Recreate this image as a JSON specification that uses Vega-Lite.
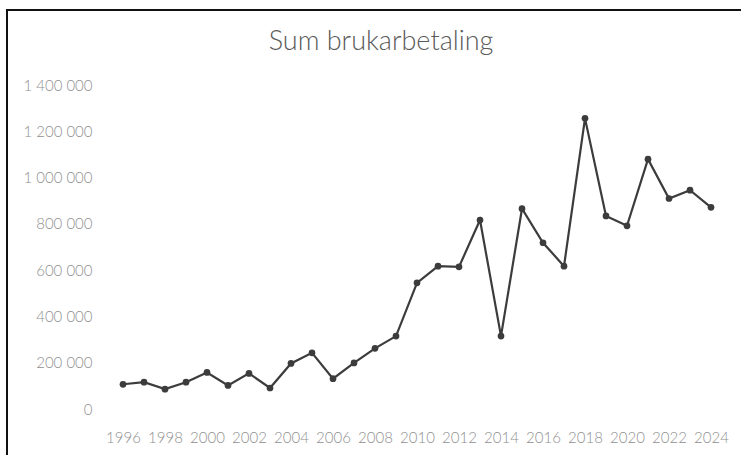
{
  "$schema": "https://vega.github.io/schema/vega-lite/v6.json",
  "autosize": "none",
  "padding": {"left": 7, "top": 10, "right": 0, "bottom": 0},
  "width": 748,
  "height": 450,
  "background": "white",
  "title": {
    "text": "Sum brukarbetaling",
    "anchor": "middle",
    "offset": -46,
    "font": "Lato",
    "fontSize": 27,
    "fontWeight": 300,
    "color": "#5a5a5a"
  },
  "config": {
    "view": {"stroke": "#111", "strokeWidth": 2},
    "locale": {"number": {"decimal": ",", "thousands": " ", "grouping": [3], "currency": ["", " kr"]}}
  },
  "data": {
    "values": [
      {"year": 1996, "value": 108000},
      {"year": 1997, "value": 117000},
      {"year": 1998, "value": 87000},
      {"year": 1999, "value": 117000},
      {"year": 2000, "value": 159000},
      {"year": 2001, "value": 103000},
      {"year": 2002, "value": 155000},
      {"year": 2003, "value": 92000},
      {"year": 2004, "value": 198000},
      {"year": 2005, "value": 244000},
      {"year": 2006, "value": 132000},
      {"year": 2007, "value": 200000},
      {"year": 2008, "value": 263000},
      {"year": 2009, "value": 316000},
      {"year": 2010, "value": 546000},
      {"year": 2011, "value": 618000},
      {"year": 2012, "value": 615000},
      {"year": 2013, "value": 817000},
      {"year": 2014, "value": 316000},
      {"year": 2015, "value": 866000},
      {"year": 2016, "value": 719000},
      {"year": 2017, "value": 618000},
      {"year": 2018, "value": 1256000},
      {"year": 2019, "value": 835000},
      {"year": 2020, "value": 792000},
      {"year": 2021, "value": 1080000},
      {"year": 2022, "value": 910000},
      {"year": 2023, "value": 946000},
      {"year": 2024, "value": 872000}
    ]
  },
  "encoding": {
    "x": {
      "field": "year",
      "type": "quantitative",
      "scale": {"domain": [1990.476, 2026.095], "nice": false, "zero": false},
      "axis": {
        "title": null,
        "values": [1996, 1998, 2000, 2002, 2004, 2006, 2008, 2010, 2012, 2014, 2016, 2018, 2020, 2022, 2024],
        "format": "d",
        "offset": -30,
        "domain": false,
        "ticks": false,
        "grid": false,
        "labelPadding": 0,
        "labelBaseline": "top",
        "labelFont": "Lato",
        "labelFontSize": 15,
        "labelFontWeight": 300,
        "labelColor": "#8f8f8f",
        "labelOverlap": false
      }
    },
    "y": {
      "field": "value",
      "type": "quantitative",
      "scale": {"domain": [-218900, 1723800], "nice": false, "zero": false},
      "axis": {
        "title": null,
        "values": [0, 200000, 400000, 600000, 800000, 1000000, 1200000, 1400000],
        "format": ",d",
        "offset": -85,
        "domain": false,
        "ticks": false,
        "grid": false,
        "labelPadding": 0,
        "labelFont": "Lato",
        "labelFontSize": 15,
        "labelFontWeight": 300,
        "labelColor": "#8f8f8f"
      }
    }
  },
  "layer": [
    {"mark": {"type": "line", "color": "#3c3c3c", "strokeWidth": 2.2}},
    {"mark": {"type": "circle", "color": "#3c3c3c", "opacity": 1, "size": 45}}
  ]
}
